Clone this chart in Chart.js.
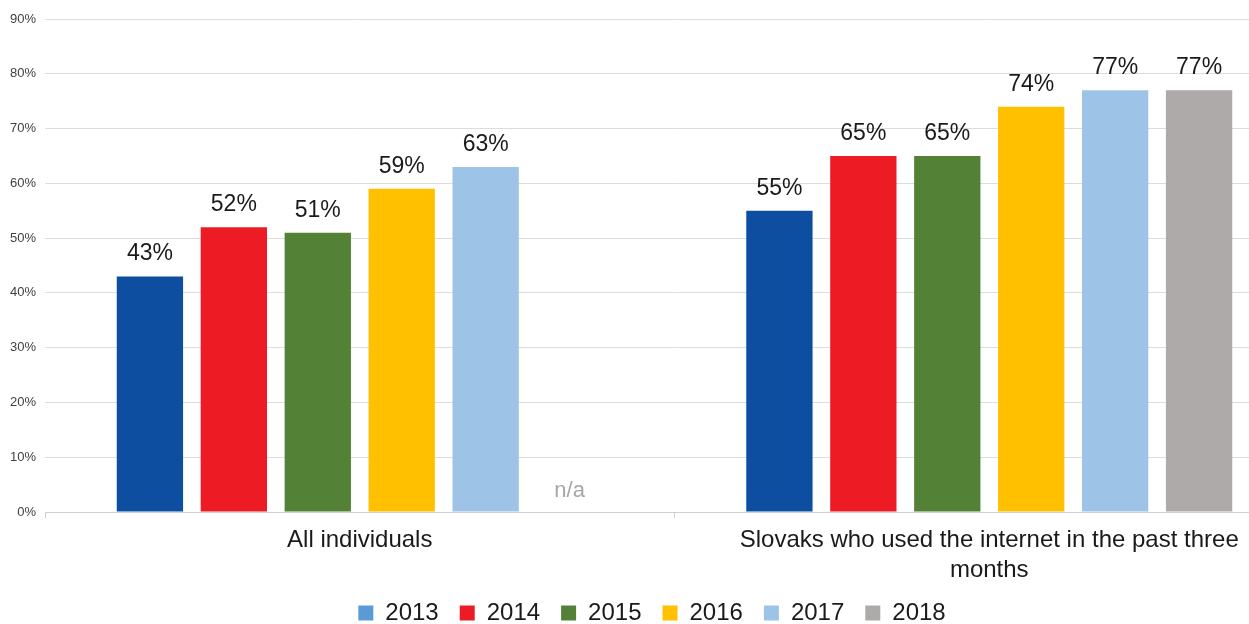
<!DOCTYPE html>
<html>
<head>
<meta charset="utf-8">
<script src="https://cdn.jsdelivr.net/npm/chart.js@4"></script>
<style>
  body { margin: 0; background: #fff; overflow: hidden; }
  #wrap { width: 1310px; height: 635px; }
</style>
</head>
<body>
<div id="wrap"><canvas id="usageChart"></canvas></div>
<script>
// Data
const groups = [["All individuals"], ["Slovaks who used the internet in the past three", "months"]];
const years = ["2013", "2014", "2015", "2016", "2017", "2018"];
const v2013 = [43, 55];
const v2014 = [52, 65];
const v2015 = [51, 65];
const v2016 = [59, 74];
const v2017 = [63, 77];
const v2018 = [null, 77];
const yTicks = [0, 10, 20, 30, 40, 50, 60, 70, 80, 90];

const barColors = ["#0d4ea0", "#ed1c24", "#538135", "#ffc000", "#9dc3e6", "#aeaaaa"];
const legendColors = ["#5b9bd5", "#ed1c24", "#538135", "#ffc000", "#9dc3e6", "#aeaaaa"];
const FONT = "'Liberation Sans', Arial, sans-serif";

// value labels above bars + n/a marker for missing values
const valueLabels = {
  id: "valueLabels",
  afterDatasetsDraw(chart) {
    const ctx = chart.ctx;
    const yScale = chart.scales.y;
    ctx.save();
    ctx.textAlign = "center";
    ctx.textBaseline = "alphabetic";
    chart.data.datasets.forEach((ds, i) => {
      const meta = chart.getDatasetMeta(i);
      meta.data.forEach((bar, j) => {
        const v = ds.data[j];
        if (v === null) {
          ctx.font = "22px " + FONT;
          ctx.fillStyle = "#a6a6a6";
          ctx.fillText("n/a", bar.x, yScale.getPixelForValue(0) - 15);
          return;
        }
        ctx.font = "23px " + FONT;
        ctx.fillStyle = "#1a1a1a";
        ctx.fillText(v + "%", bar.x, bar.y - 16);
      });
    });
    ctx.restore();
  },
};

document.addEventListener("DOMContentLoaded", () => {
  const ctx = document.getElementById("usageChart").getContext("2d");
  const series = [v2013, v2014, v2015, v2016, v2017, v2018];

  const config = {
    type: "bar",
    data: {
      labels: groups,
      datasets: years.map((y, i) => ({
        label: y,
        data: series[i],
        backgroundColor: barColors[i],
        categoryPercentage: 0.8,
        barPercentage: 0.79,
      })),
    },
    options: {
      responsive: true,
      maintainAspectRatio: false,
      animation: false,
      layout: { padding: { top: 19, right: 6, left: 0, bottom: 0 } },
      plugins: {
        tooltip: { enabled: false },
        legend: {
          position: "bottom",
          labels: {
            font: { family: FONT, size: 24 },
            color: "#1a1a1a",
            boxWidth: 15,
            boxHeight: 15,
            padding: 21,
            generateLabels: (chart) =>
              chart.data.datasets.map((ds, i) => ({
                text: ds.label,
                fillStyle: legendColors[i],
                strokeStyle: legendColors[i],
                lineWidth: 0,
                datasetIndex: i,
                fontColor: "#1a1a1a",
              })),
          },
        },
      },
      scales: {
        y: {
          min: 0,
          max: 90,
          afterBuildTicks: (axis) => {
            axis.ticks = yTicks.map((v) => ({ value: v }));
          },
          afterFit: (axis) => {
            axis.width = 45;
          },
          border: { display: false },
          grid: { color: "#dcdcdc", drawTicks: false },
          ticks: {
            padding: 9,
            color: "#404040",
            font: { family: FONT, size: 13 },
            callback: (v) => v + "%",
          },
        },
        x: {
          afterFit: (axis) => {
            axis.height = 68;
          },
          border: { color: "#d0d0d0" },
          grid: { drawOnChartArea: false, color: "#d0d0d0", tickLength: 6, offset: true },
          ticks: {
            color: "#1a1a1a",
            font: { family: FONT, size: 24, lineHeight: 1.25 },
            padding: 7,
            maxRotation: 0,
          },
        },
      },
    },
    plugins: [valueLabels],
  };

  new Chart(ctx, config);
});
</script>
</body>
</html>
